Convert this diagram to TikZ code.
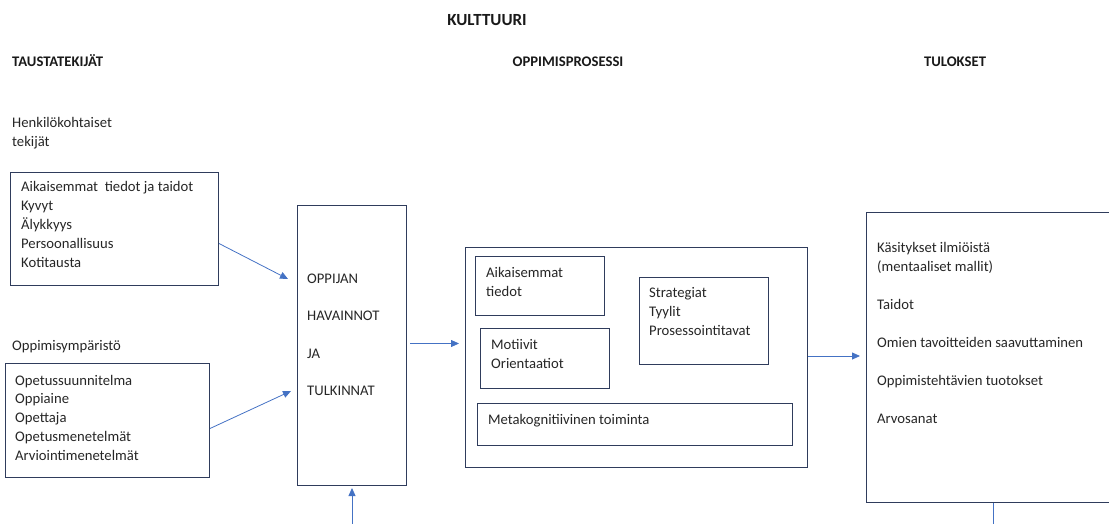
\documentclass[tikz,border=0pt]{standalone}
\usepackage{fontspec}
\setmainfont{Carlito}
\usetikzlibrary{arrows.meta}
\definecolor{boxcol}{RGB}{47,60,92}
\definecolor{arrcol}{RGB}{68,114,196}
\tikzset{
  box/.style={draw=boxcol, line width=1pt, anchor=north west, inner sep=0pt},
  % placed at the baseline of the last line
  txt/.style={anchor=base west, align=left, inner sep=0pt, text=black!85,
    font=\fontsize{14.67}{19}\selectfont},
  head/.style={anchor=base, inner sep=0pt, text=black!90,
    font=\fontsize{14.67}{18}\selectfont\bfseries},
  arr/.style={draw=arrcol, line width=0.8pt, -{Triangle[length=8pt,width=7pt]}},
}
\begin{document}
\begin{tikzpicture}[x=1pt, y=-1pt]
  \clip (0,0) rectangle (1109,524);

  % headings
  \node[head, font=\fontsize{17}{20}\selectfont\bfseries] (kult) at (487,26) {KULTTUURI};
  \node[head, anchor=base west] (taus) at (12,67) {TAUSTATEKIJÄT};
  \node[head] (proshead) at (568,67) {OPPIMISPROSESSI};
  \node[head] (tulhead) at (955,67) {TULOKSET};

  % background factors
  \node[txt] (henk) at (12,147) {Henkilökohtaiset\\tekijät};
  \node[box, minimum width=208, minimum height=113] (pers) at (10,172) {};
  \node[txt] (perstxt) at (21,267) {Aikaisemmat\ \ tiedot ja taidot\\Kyvyt\\Älykkyys\\Persoonallisuus\\Kotitausta};
  \node[txt] (ymp) at (12,350) {Oppimisympäristö};
  \node[box, minimum width=204, minimum height=114] (env) at (5,363) {};
  \node[txt, font=\fontsize{14.67}{18.75}\selectfont] (envtxt) at (15,460) {Opetussuunnitelma\\Oppiaine\\Opettaja\\Opetusmenetelmät\\Arviointimenetelmät};

  % perceptions
  \node[box, minimum width=109, minimum height=280] (obs) at (297,205) {};
  \node[txt, font=\fontsize{14.67}{37.5}\selectfont] (obstxt) at (307,395.5) {OPPIJAN\\HAVAINNOT\\JA\\TULKINNAT};

  % learning process
  \node[box, minimum width=342, minimum height=220] (proc) at (465,247) {};
  \node[box, minimum width=129, minimum height=59] (prior) at (475,256) {};
  \node[txt] (priortxt) at (486,296) {Aikaisemmat\\tiedot};
  \node[box, minimum width=129, minimum height=60] (motiv) at (480,328) {};
  \node[txt] (motivtxt) at (491,368) {Motiivit\\Orientaatiot};
  \node[box, minimum width=129, minimum height=87] (strat) at (639,277) {};
  \node[txt] (strattxt) at (649,335) {Strategiat\\Tyylit\\Prosessointitavat};
  \node[box, minimum width=315, minimum height=42] (meta) at (477,403) {};
  \node[txt] (metatxt) at (488,424) {Metakognitiivinen toiminta};

  % outcomes
  \node[box, minimum width=270, minimum height=290] (res) at (866,212) {};
  \node[txt] (restxt) at (877,423) {Käsitykset ilmiöistä\\(mentaaliset mallit)\\[19pt]Taidot\\[19pt]Omien tavoitteiden saavuttaminen\\[19pt]Oppimistehtävien tuotokset\\[19pt]Arvosanat};

  % connectors
  \coordinate (a1) at (288,279);
  \coordinate (a2) at (291,391);
  \coordinate (b1) at (352,524);
  \coordinate (b2) at (993,524);
  \draw[arr] ([yshift=-14.5pt]pers.east) -- (a1);
  \draw[arr] ([yshift=-8pt]env.east) -- (a2);
  \draw[arr] ([shift={(3pt,2pt)}]obs.east) -- ++(49,0);
  \draw[arr] ([yshift=1.5pt]proc.east) -- ++(52,0);
  \draw[arr, shorten >=2pt] (b1) -- (b1 |- obs.south);
  \draw[draw=arrcol, line width=0.8pt] (b2) -- (b2 |- res.south);
\end{tikzpicture}
\end{document}
